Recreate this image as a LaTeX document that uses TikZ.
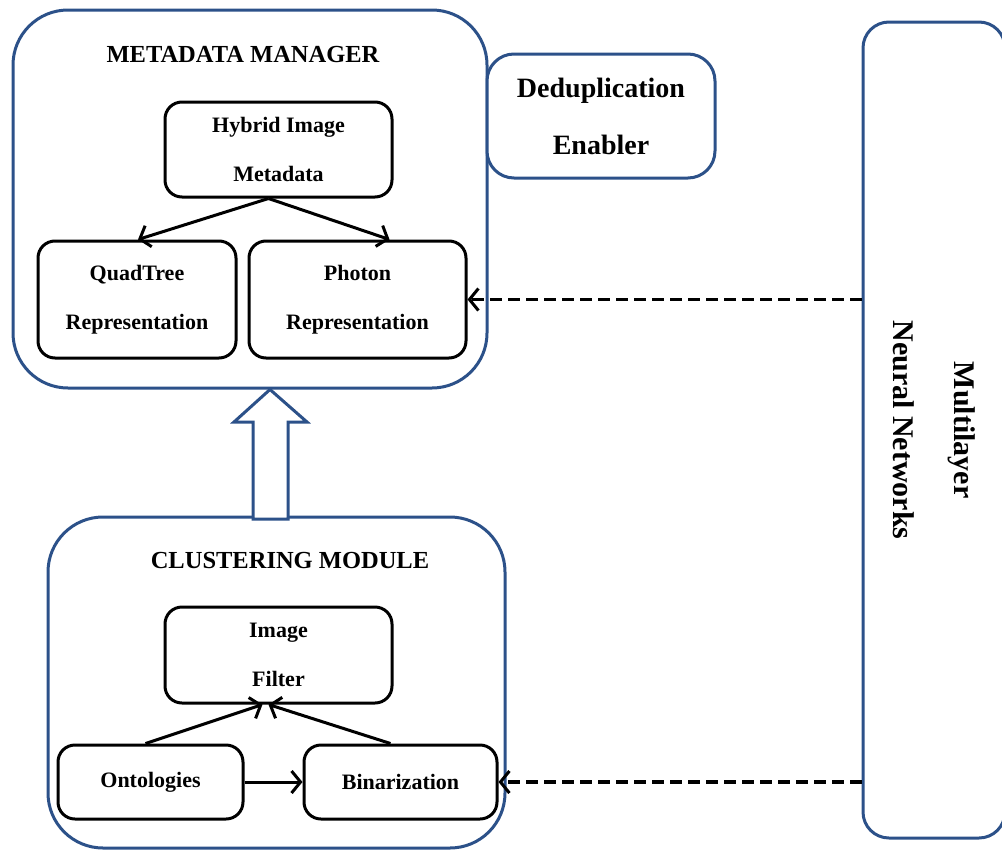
\documentclass[tikz,border=0pt]{standalone}
\usepackage{fontspec}
\setmainfont{Liberation Serif}
\usetikzlibrary{arrows.meta}
\definecolor{frameblue}{HTML}{2C5189}
\tikzset{
  outerbox/.style={draw=frameblue, line width=3pt, fill=white, inner sep=0pt},
  innerbox/.style={draw=black, line width=3pt, rounded corners=17pt, fill=white, inner sep=0pt, align=center, font=\fontsize{22}{49}\selectfont\bfseries},
  titletext/.style={inner sep=0pt, font=\fontsize{24.5}{28}\selectfont\bfseries},
  conn/.style={line width=3pt, -{Straight Barb[length=9pt,width=22pt,line width=3pt]}},
  dashconn/.style={line width=3.5pt, dash pattern=on 12pt off 6pt, -{Straight Barb[length=9pt,width=22pt,line width=3pt]}}
}
\begin{document}
\begin{tikzpicture}[x=1pt,y=-1pt]
\useasboundingbox (0,0) rectangle (1002,852);
% outer containers
\node[outerbox, rounded corners=55pt, minimum width=474pt, minimum height=378pt] (mm) at (250,199) {};
\node[outerbox, rounded corners=55pt, minimum width=457pt, minimum height=331pt] (cm) at (276.5,682.5) {};
\node[outerbox, rounded corners=27pt, minimum width=228pt, minimum height=124pt, align=center, font=\fontsize{28}{57}\selectfont\bfseries] (dd) at (601,116) {Deduplication\\Enabler};
\node[outerbox, rounded corners=26pt, minimum width=142pt, minimum height=816pt] (mlp) at (934,430) {};
\node[inner sep=0pt, rotate=-90, align=center, font=\fontsize{30}{61}\selectfont\bfseries] (mlptext) at (934.5,430) {Multilayer\\Neural Networks};
% titles
\node[titletext] (mmtitle) at (243,55) {METADATA MANAGER};
\node[titletext] (cmtitle) at (290,560) {CLUSTERING MODULE};
% inner boxes
\node[innerbox, minimum width=227pt, minimum height=95pt] (hyb) at (278.5,149.5) {Hybrid Image\\Metadata};
\node[innerbox, minimum width=198pt, minimum height=117pt] (qt) at (137,299.5) {QuadTree\\Representation};
\node[innerbox, minimum width=217pt, minimum height=117pt] (ph) at (357.5,299.5) {Photon\\Representation};
\node[innerbox, minimum width=227pt, minimum height=96pt] (filt) at (278.5,655) {Image\\Filter};
\node[innerbox, minimum width=185pt, minimum height=74pt] (ont) at (150.5,782) {Ontologies};
\node[innerbox, minimum width=193pt, minimum height=74pt] (bin) at (400.5,782) {Binarization};
% connectors
\draw[conn] ([xshift=-10pt]hyb.south) -- ([xshift=1pt]qt.north);
\draw[conn] ([xshift=-10pt]hyb.south) -- ([xshift=32pt]ph.north);
\draw[conn] ([xshift=-5pt]ont.north) -- ([xshift=-16pt]filt.south);
\draw[conn] ([xshift=-10pt]bin.north) -- ([xshift=-10pt]filt.south);
\draw[conn] (ont.east) -- (bin.west);
\draw[dashconn] (mlp.west |- ph.east) -- (ph.east);
\draw[dashconn] (mlp.west |- bin.east) -- (bin.east);
% hollow block arrow
\coordinate (tip) at (mm.south -| 270,0);
\draw[draw=frameblue, line width=3pt, fill=white, line join=miter]
  (253,519) -- (253,422) -- (234,422) -- (tip) -- (307,422) -- (288,422) -- (288,519) -- cycle;
\end{tikzpicture}
\end{document}
